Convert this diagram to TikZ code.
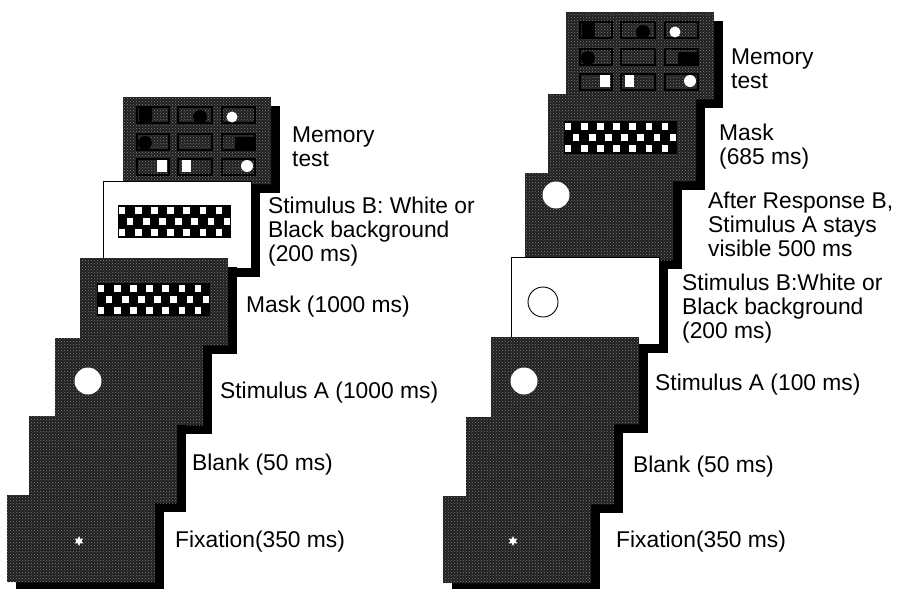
\documentclass[tikz,border=0pt]{standalone}
\usepackage{fontspec}
\setmainfont{Liberation Sans}
\usetikzlibrary{shapes.geometric,shadows,patterns}

\tikzset{
  screen/.style={draw=none,fill=black!88,minimum width=148pt,minimum height=87pt,
    inner sep=0pt,outer sep=0pt,anchor=north west,
    drop shadow={shadow xshift=9pt,shadow yshift=-9pt,fill=black,opacity=1}},
  noisy/.style={postaction={pattern=crosshatch dots,pattern color=black!50}},
  darkscreen/.style={screen,noisy},
  whitescreen/.style={screen,fill=white,draw=black,line width=0.9pt},
  cellframe/.style={draw=black,line width=2.4pt},
  fixstar/.style={star,star points=6,star point ratio=2.0,fill=white,draw=none,
    minimum size=10pt,inner sep=0pt},
  steplabel/.style={anchor=north west,inner sep=0pt,align=left,
    font=\fontsize{22.8}{24}\selectfont}
}

% checkerboard mask: node, offset from its north west corner
\newcommand{\checker}[3]{%
  \fill[black] ([shift={(#2,#3)}]#1.north west) rectangle ++(113,33);
  \foreach \r/\s in {0/0,1/1,2/0}
    \foreach \c in {0,2,...,12}
      \fill[white] ([shift={({#2+(\c+\s)*8.07+0.8},{#3+\r*11+1.6})}]#1.north west) rectangle ++(6.6,7.8);
}

% 3x3 memory test display
\newcommand{\memgrid}[1]{%
  \foreach \cx/\cw in {14/32,55/34,99/33}
    \foreach \cy in {10,37,62}
      \draw[cellframe] ([shift={(\cx,\cy)}]#1.north west) rectangle ++(\cw,16);
  \fill[black] ([shift={(16,11)}]#1.north west) rectangle ++(13,15);
  \fill[black] ([shift={(77,20)}]#1.north west) circle (7);
  \fill[white] ([shift={(109,20)}]#1.north west) circle (5.5);
  \fill[black] ([shift={(22,46)}]#1.north west) circle (7);
  \fill[black] ([shift={(112,40)}]#1.north west) rectangle ++(19,14);
  \fill[white] ([shift={(34,63)}]#1.north west) rectangle ++(10,12);
  \fill[white] ([shift={(59,63)}]#1.north west) rectangle ++(9,12);
  \fill[white] ([shift={(124,69)}]#1.north west) circle (6);
}

\begin{document}
\begin{tikzpicture}[x=1pt,y=-1pt]
  \useasboundingbox (0,0) rectangle (903,589);

  % left sequence, drawn from the last screen down to the first
  \node[darkscreen] (memL) at (123,97) {};
  \memgrid{memL}
  \node[whitescreen] (stimBL) at (103,181) {};
  \checker{stimBL}{15}{24}
  \node[darkscreen] (maskL) at (80,258) {};
  \checker{maskL}{17}{25}
  \node[darkscreen] (stimAL) at (55,338) {};
  \fill[white] ([shift={(33,43)}]stimAL.north west) circle (13.5);
  \node[darkscreen] (blankL) at (29,416) {};
  \node[darkscreen] (fixL) at (7,495) {};
  \node[fixstar] (starL) at ([shift={(72,46)}]fixL.north west) {};

  \node[steplabel] (memLtxt) at (292,126.7) {Memory\\test};
  \node[steplabel] (stimBLtxt) at (268,196.7) {Stimulus B: White or\\Black background\\(200 ms)};
  \node[steplabel] (maskLtxt) at (246,295.7) {Mask (1000 ms)};
  \node[steplabel] (stimALtxt) at (220,381.7) {Stimulus A (1000 ms)};
  \node[steplabel] (blankLtxt) at (192,453.7) {Blank (50 ms)};
  \node[steplabel] (fixLtxt) at (175,530.7) {Fixation(350 ms)};

  % right sequence
  \node[darkscreen] (memR) at (566,12) {};
  \memgrid{memR}
  \node[darkscreen] (maskR) at (548,94) {};
  \checker{maskR}{16}{27}
  \node[darkscreen] (afterR) at (525,173) {};
  \fill[white] ([shift={(31,22)}]afterR.north west) circle (13.5);
  \node[whitescreen] (stimBR) at (511,257) {};
  \draw[black,line width=0.9pt,fill=white] ([shift={(32,45)}]stimBR.north west) circle (15);
  \node[darkscreen] (stimAR) at (491,337) {};
  \fill[white] ([shift={(33,44)}]stimAR.north west) circle (13.5);
  \node[darkscreen] (blankR) at (466,417) {};
  \node[darkscreen] (fixR) at (443,496) {};
  \node[fixstar] (starR) at ([shift={(70,45)}]fixR.north west) {};

  \node[steplabel] (memRtxt) at (731,48.7) {Memory\\test};
  \node[steplabel] (maskRtxt) at (719,123.7) {Mask\\(685 ms)};
  \node[steplabel] (afterRtxt) at (708,191.7) {After Response B,\\Stimulus A stays\\visible 500 ms};
  \node[steplabel] (stimBRtxt) at (682,273.7) {Stimulus B:White or\\Black background\\(200 ms)};
  \node[steplabel] (stimARtxt) at (655,373.7) {Stimulus A (100 ms)};
  \node[steplabel] (blankRtxt) at (633,455.7) {Blank (50 ms)};
  \node[steplabel] (fixRtxt) at (616,530.7) {Fixation(350 ms)};
\end{tikzpicture}
\end{document}
